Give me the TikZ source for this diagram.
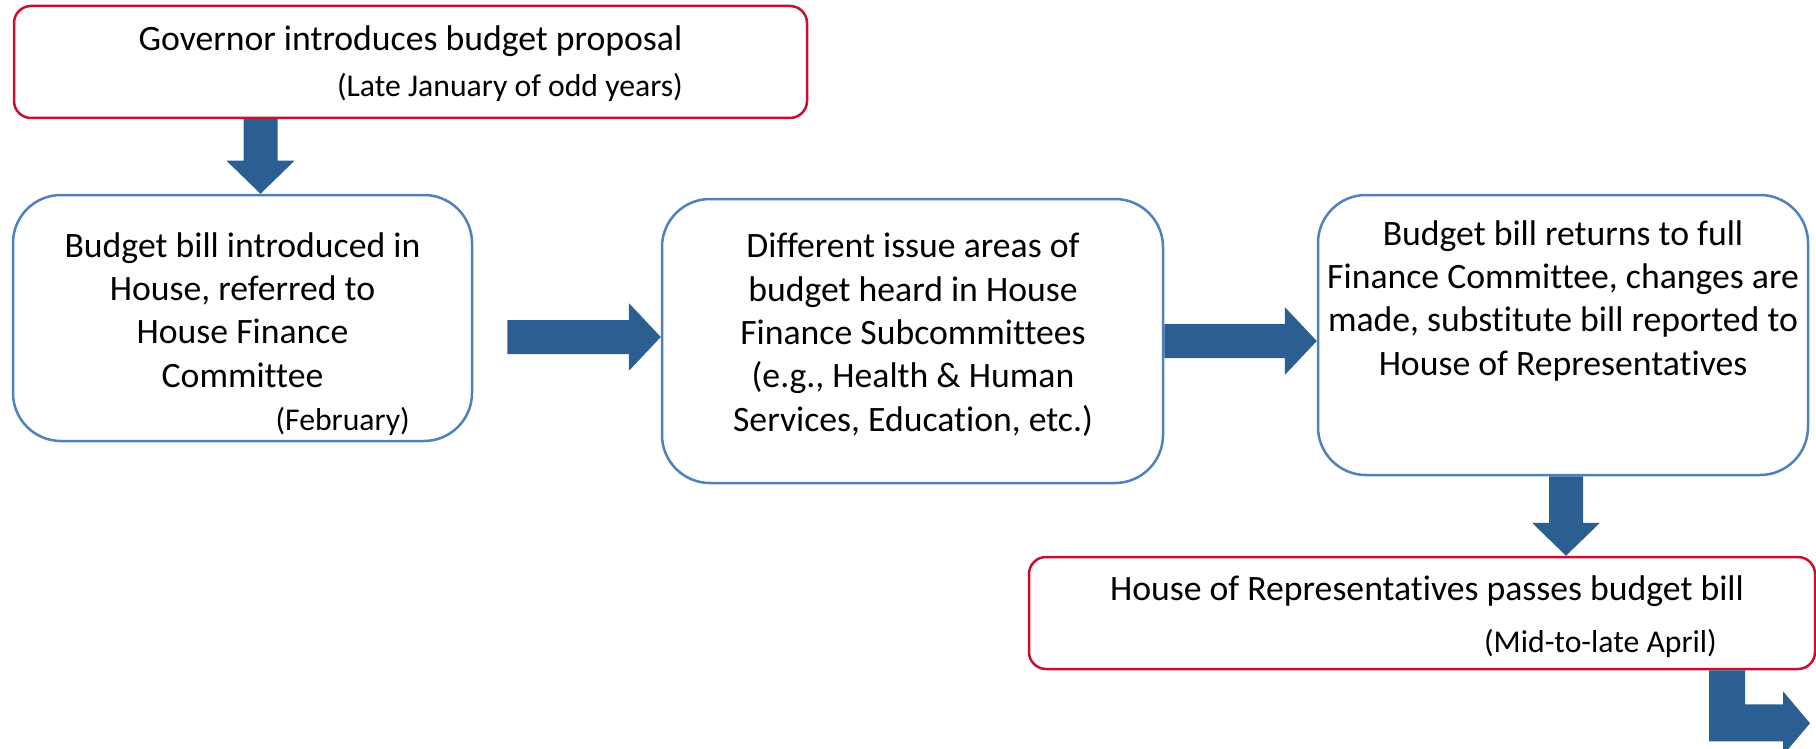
\documentclass[tikz,border=0pt]{standalone}
\usepackage{fontspec}
\setmainfont{Carlito}[Ligatures=CommonOff]
\usetikzlibrary{calc}
\definecolor{arrowblue}{RGB}{43,94,145}
\definecolor{boxblue}{RGB}{79,129,189}
\definecolor{boxred}{RGB}{200,16,46}
\tikzset{
  bluebox/.style={draw=boxblue, line width=2.5pt, fill=white, rounded corners=48pt, inner sep=0pt},
  redbox/.style={draw=boxred, line width=2.5pt, fill=white, rounded corners=17pt, inner sep=0pt},
  maintext/.style={align=center, inner sep=0pt, anchor=base, font=\fontsize{35.7}{43.3}\selectfont},
  datetext/.style={inner sep=0pt, anchor=base east, font=\fontsize{31.7}{38}\selectfont},
  arr/.style={fill=arrowblue},
  fatdown/.style={to path={($(\tikztostart)+(-17,0)$) -- ($(\tikztotarget)+(-17,-33)$) -- ($(\tikztotarget)+(-34,-33)$) -- (\tikztotarget) -- ($(\tikztotarget)+(34,-33)$) -- ($(\tikztotarget)+(17,-33)$) -- ($(\tikztostart)+(17,0)$) -- cycle}},
  fatright/.style={to path={($(\tikztostart)+(0,-17)$) -- ($(\tikztotarget)+(-32,-17)$) -- ($(\tikztotarget)+(-32,-34)$) -- (\tikztotarget) -- ($(\tikztotarget)+(-32,34)$) -- ($(\tikztotarget)+(-32,17)$) -- ($(\tikztostart)+(0,17)$) -- cycle}},
}
\begin{document}
\begin{tikzpicture}[x=1pt, y=-1pt]
\useasboundingbox (0,0) rectangle (1816,749);
% boxes
\node[redbox, minimum width=793pt, minimum height=112pt] (gov) at (410.5,62) {};
\node[bluebox, minimum width=459pt, minimum height=246pt] (box2) at (242.5,318) {};
\node[bluebox, minimum width=501pt, minimum height=284pt] (box3) at (912.5,341) {};
\node[bluebox, minimum width=490pt, minimum height=280pt] (box4) at (1563,335) {};
\node[redbox, minimum width=786pt, minimum height=112pt] (box5) at (1422,613) {};
% arrows
\coordinate (d1s) at ($(gov.south)+(-150,0)$);
\coordinate (d1e) at (d1s |- box2.north);
\fill[arr] (d1s) to[fatdown] (d1e);
\coordinate (r1e) at ($(box3.west)+(0,-4)$);
\coordinate (r1s) at ($(box2.east |- r1e)+(34,0)$);
\fill[arr] (r1s) to[fatright] (r1e);
\coordinate (r2s) at (box3.east);
\coordinate (r2e) at (box4.west |- r2s);
\fill[arr] (r2s) to[fatright] (r2e);
\coordinate (d2s) at ($(box4.south)+(3,0)$);
\coordinate (d2e) at (d2s |- box5.north);
\fill[arr] (d2s) to[fatdown] (d2e);
\coordinate (b5s) at ($(box5.south)+(305,0)$);
\coordinate (bend) at ($(b5s)+(83,53)$);
\fill[arr] ($(b5s)+(-18,0)$) -- ($(b5s)+(-18,71)$) -- ($(b5s)+(56,71)$) -- ($(b5s)+(56,85)$) -- (bend) -- ($(b5s)+(56,21)$) -- ($(b5s)+(56,34)$) -- ($(b5s)+(18,34)$) -- ($(b5s)+(18,0)$) -- cycle;
% texts (multi-line: base anchor = last line)
\node[maintext] (govt) at (410.5,50.7) {Governor introduces budget proposal};
\node[datetext] (govd) at (683,97) {(Late January of odd years)};
\node[maintext] (box2t) at (242.5,387) {Budget bill introduced in\\House, referred to\\House Finance\\Committee};
\node[datetext] (box2d) at (410,430) {(February)};
\node[maintext] (box3t) at (913,431) {Different issue areas of\\budget heard in House\\Finance Subcommittees\\(e.g., Health \& Human\\Services, Education, etc.)};
\node[maintext] (box4t) at (1563,375) {Budget bill returns to full\\Finance Committee, changes are\\made, substitute bill reported to\\House of Representatives};
\node[maintext] (box5t) at (1427,600) {House of Representatives passes budget bill};
\node[datetext] (box5d) at (1717,652) {(Mid-to-late April)};
\end{tikzpicture}
\end{document}
